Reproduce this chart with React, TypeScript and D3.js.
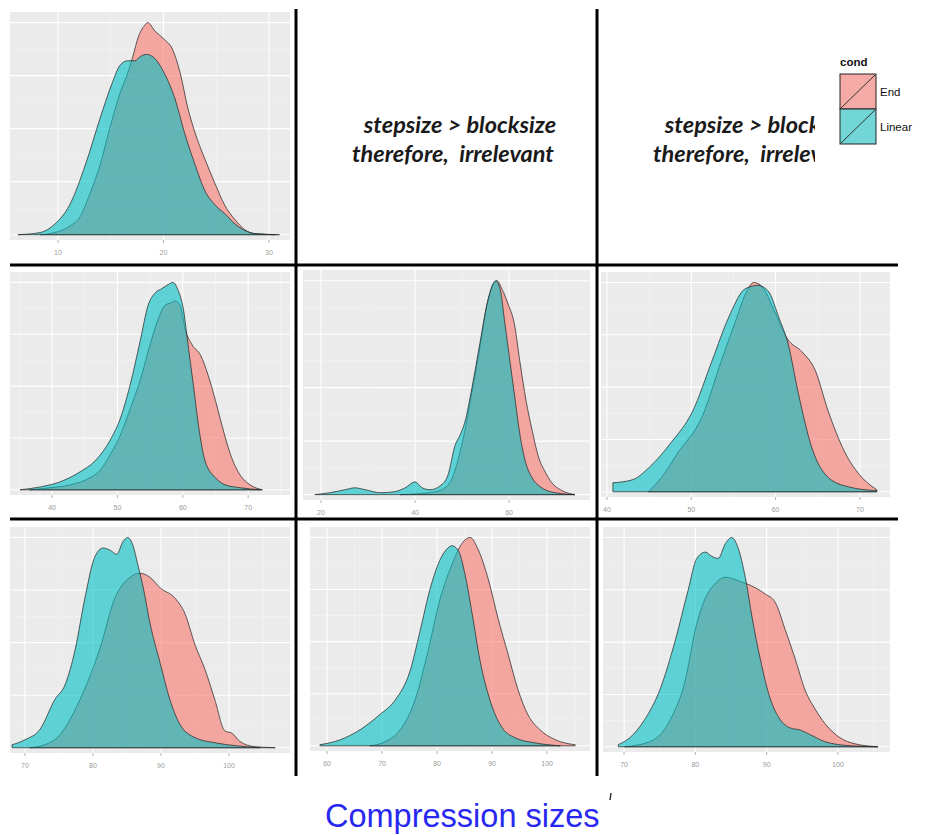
import React from "react";
import * as d3 from "d3";

type Pt = [number, number];

// Kernel density estimates (x = compression size, y = density as % of panel peak)
const p1End: Pt[] = [[8.3,0],[9.7,1],[11.1,4],[12.1,8.5],[13.0,19],[14.0,33],[14.9,50],[15.9,67],[16.6,76],[17.1,84],[17.6,93],[18.2,98.6],[18.5,100],[19.2,96],[20.1,92],[20.8,88],[21.6,76],[22.3,60],[23.0,48],[23.9,36],[24.9,24],[25.8,14],[26.8,7],[27.7,2.4],[28.7,0.5],[30.6,0]];
const p1Linear: Pt[] = [[6.2,0],[8.3,1],[9.7,5],[11.1,14],[12.6,33],[14.0,55],[15.1,71],[15.9,80],[16.6,82],[17.3,82],[17.8,84],[18.4,85],[19.2,83],[20.1,76],[21.1,64],[22.0,48],[23.0,33],[23.9,21],[24.9,14],[25.8,10],[26.8,5],[27.7,2],[28.7,0.5],[31.0,0]];

const p2End: Pt[] = [[36.6,0],[39.7,1],[42.8,2.4],[45.8,5.8],[47.4,9.6],[48.9,17],[50.4,26],[51.9,38.5],[53.5,53],[55.0,70],[56.2,82],[57.3,89],[58.1,90],[58.8,91],[59.6,89],[60.4,77],[61.4,70],[62.7,65],[63.9,55],[65.0,43],[66.0,31],[67.3,17],[68.8,7],[70.3,2.4],[72.2,0]];
const p2Linear: Pt[] = [[35.1,0],[38.2,1.4],[41.2,3.8],[44.3,8.7],[46.6,14],[48.9,24],[50.4,34],[51.9,50],[53.5,72],[54.7,89],[55.8,95],[56.8,97],[57.8,99],[58.5,100],[59.3,96],[60.1,87],[60.8,70],[61.6,51],[62.4,31],[63.4,14],[65.0,5.8],[66.5,2.4],[68.8,1],[71.9,0]];

const p3End: Pt[] = [[36.8,0],[41.1,0.5],[44.3,1.4],[46.4,3.2],[47.9,7.8],[49.1,16],[50.6,30],[52.1,48],[53.8,69],[55.3,89],[56.4,97],[57.4,100],[58.5,96],[59.8,89],[61.1,80],[62.3,62],[63.6,44],[64.9,30],[66.2,18],[67.7,10.5],[69.1,5.5],[70.9,2.3],[74.0,0]];
const p3Linear: Pt[] = [[18.7,0],[21.9,0.9],[25.1,2.3],[27.2,3.2],[29.4,2.3],[32.6,0.9],[35.7,1.4],[37.9,3.2],[40.0,6],[41.5,3.2],[43.2,2.3],[45.3,4.1],[47.0,9.2],[48.5,23],[49.6,28],[50.6,34],[52.1,50],[53.8,71],[55.3,89],[56.4,97.7],[57.2,100],[58.1,96],[59.1,80],[60.2,62],[61.3,44],[62.3,28],[63.4,16],[64.9,7.8],[66.6,3.7],[69.8,0.9],[74.0,0]];

const p4End: Pt[] = [[44.9,0],[46.5,7],[48.4,18.6],[51.3,36],[53.6,63],[55.2,81],[56.6,96],[57.4,100],[58.4,98],[59.9,86],[61.4,73],[63.1,67],[64.7,58],[66.2,39],[68.2,19],[70.2,7],[72.0,1]];
const p4Linear: Pt[] = [[40.7,4.3],[43.0,5.7],[45.1,12],[47.7,24],[50.1,38],[52.5,63],[54.4,83],[56.4,97],[57.9,98.6],[59.1,96],[60.5,82],[61.4,72],[62.7,47],[64.3,21],[66.2,7],[68.6,2.4],[72.0,0.5]];

const p5End: Pt[] = [[70.7,0],[72.9,1.4],[75.1,6],[78.1,23],[81.0,47],[83.2,71],[85.4,81],[86.9,83],[88.4,81],[89.9,76],[92.1,71],[93.5,64],[95.0,49],[96.5,37],[97.9,23],[99.4,8],[100.4,7],[101.6,3],[103.8,0.5],[106.8,0]];
const p5Linear: Pt[] = [[68.1,1.4],[70.0,3.8],[72.2,8.7],[74.4,23],[75.9,30],[77.4,47],[78.8,71],[80.3,91],[81.5,95],[82.5,94],[83.5,92],[84.4,98],[85.1,100],[85.9,96],[86.6,87],[87.4,76],[88.4,59],[89.9,40],[91.3,23],[92.8,11],[95.0,4.8],[97.9,2.4],[100.9,1],[104.6,0]];

const p6End: Pt[] = [[67.8,0],[70.5,1.9],[73.3,7.7],[76.0,22],[78.4,46],[80.5,70],[82.7,87],[84.5,97],[86.0,100],[87.5,94],[89.3,80],[91.1,61],[92.9,44],[94.7,27],[96.5,15],[98.7,7.7],[101.5,2.9],[105.1,0.5]];
const p6Linear: Pt[] = [[58.7,0.5],[62.4,2.9],[66.0,7.7],[69.6,15],[72.4,22],[75.1,36],[76.9,55],[78.7,75],[80.5,89],[82.0,95],[82.7,96],[83.8,94],[85.1,82],[86.4,63],[87.8,41],[89.6,22],[91.5,10],[94.2,3.8],[97.8,1.4],[102.4,0]];

const p7End: Pt[] = [[70.1,0],[73.6,2.4],[76.5,13],[78.6,32],[80.0,56],[81.4,71],[82.8,78],[84.2,81],[86.3,79],[88.4,76],[89.8,73],[91.2,69],[92.6,56],[94.0,42],[95.4,27],[96.8,18],[98.2,11],[100.3,4.3],[102.4,1.4],[105.6,0]];
const p7Linear: Pt[] = [[69.2,1],[70.8,4.3],[72.9,13],[75.0,27],[77.2,51],[79.0,75],[80.2,90],[81.4,93],[82.3,91],[83.2,90],[84.2,97],[85.1,100],[86.0,95],[87.0,81],[88.0,61],[89.1,42],[90.5,23],[91.9,13],[93.3,9],[94.7,8],[96.1,5.8],[98.2,2.4],[101.7,0.5],[105.6,0]];

// Axis ticks and domains for each panel
const p1Ticks = [10, 20, 30];
const p2Ticks = [40, 50, 60, 70];
const p3Ticks = [20, 40, 60];
const p4Ticks = [40, 50, 60, 70];
const p5Ticks = [70, 80, 90, 100];
const p6Ticks = [60, 70, 80, 90, 100];
const p7Ticks = [70, 80, 90, 100];

const p1Domain: Pt = [5.45, 32.0];
const p2Domain: Pt = [33.57, 76.4];
const p3Domain: Pt = [16.17, 77.2];
const p4Domain: Pt = [39.29, 73.57];
const p5Domain: Pt = [67.8, 108.97];
const p6Domain: Pt = [56.9, 107.8];
const p7Domain: Pt = [67.05, 107.3];

const condNames = ["End", "Linear"];
const noteLines = ["stepsize > blocksize", "therefore,  irrelevant"];
const titleText = "Compression sizes";

const densityDomain: Pt = [-2.5, 105];
const densityGrid = [0, 25, 50, 75, 100];

const fillColors = ["#F8766D", "#00BFC4"];
const keyColors = ["#F4ABA6", "#72D6D7"];

type Panel = {
  box: [number, number, number, number];
  domain: Pt;
  ticks: number[];
  series: Pt[][];
};

const panels: Panel[] = [
  { box: [10, 12, 290, 240], domain: p1Domain, ticks: p1Ticks, series: [p1End, p1Linear] },
  { box: [10, 272, 290, 495], domain: p2Domain, ticks: p2Ticks, series: [p2End, p2Linear] },
  { box: [303, 270, 590, 500], domain: p3Domain, ticks: p3Ticks, series: [p3End, p3Linear] },
  { box: [601, 272, 890, 497], domain: p4Domain, ticks: p4Ticks, series: [p4End, p4Linear] },
  { box: [10, 527, 290, 753], domain: p5Domain, ticks: p5Ticks, series: [p5End, p5Linear] },
  { box: [310, 527, 590, 751], domain: p6Domain, ticks: p6Ticks, series: [p6End, p6Linear] },
  { box: [603, 527, 890, 752], domain: p7Domain, ticks: p7Ticks, series: [p7End, p7Linear] },
];

function DensityPanel({ p, idx }: { p: Panel; idx: number }) {
  const [x0, y0, x1, y1] = p.box;
  const x = d3.scaleLinear().domain(p.domain).range([x0, x1]);
  const y = d3.scaleLinear().domain(densityDomain).range([y1, y0]);
  const area = d3
    .area<Pt>()
    .x((d) => x(d[0]))
    .y0(y(0))
    .y1((d) => y(d[1]))
    .curve(d3.curveMonotoneX);
  const step = p.ticks[1] - p.ticks[0];
  const minorX: number[] = [];
  for (let v = p.ticks[0] - step / 2; v <= p.domain[1]; v += step) {
    if (v >= p.domain[0]) minorX.push(v);
  }
  const minorY = densityGrid.slice(0, -1).map((v, i) => (v + densityGrid[i + 1]) / 2);
  const clipId = `panel-clip-${idx}`;
  return (
    <g>
      <defs>
        <clipPath id={clipId}>
          <rect x={x0} y={y0} width={x1 - x0} height={y1 - y0} />
        </clipPath>
      </defs>
      <rect x={x0} y={y0} width={x1 - x0} height={y1 - y0} fill="#EBEBEB" />
      <g clipPath={`url(#${clipId})`}>
        {minorX.map((v) => (
          <line key={`mx${v}`} x1={x(v)} x2={x(v)} y1={y0} y2={y1} stroke="#F5F5F5" strokeWidth={0.6} />
        ))}
        {minorY.map((v) => (
          <line key={`my${v}`} x1={x0} x2={x1} y1={y(v)} y2={y(v)} stroke="#F5F5F5" strokeWidth={0.6} />
        ))}
        {p.ticks.map((v) => (
          <line key={`gx${v}`} x1={x(v)} x2={x(v)} y1={y0} y2={y1} stroke="#FFFFFF" strokeWidth={1.1} />
        ))}
        {densityGrid.map((v) => (
          <line key={`gy${v}`} x1={x0} x2={x1} y1={y(v)} y2={y(v)} stroke="#FFFFFF" strokeWidth={1.1} />
        ))}
        {p.series.map((s, i) => (
          <path
            key={i}
            d={area(s) || ""}
            fill={fillColors[i]}
            fillOpacity={0.6}
            stroke="#2b2b2b"
            strokeOpacity={0.75}
            strokeWidth={1}
            strokeLinejoin="round"
          />
        ))}
      </g>
      {p.ticks.map((v) => (
        <g key={`t${v}`}>
          <line x1={x(v)} x2={x(v)} y1={y1} y2={y1 + 3} stroke="#9a9a9a" strokeWidth={0.8} />
          <text
            x={x(v)}
            y={y1 + 15}
            textAnchor="middle"
            fontSize={7}
            fontFamily="Liberation Sans, Arial, sans-serif"
            fill="#9a9a9a"
          >
            {v}
          </text>
        </g>
      ))}
    </g>
  );
}

function Note({ cx, clip }: { cx: number; clip?: string }) {
  return (
    <g clipPath={clip}>
      {noteLines.map((t, i) => (
        <text
          key={i}
          x={cx + (i === 0 ? 3 : -4)}
          y={133 + i * 29}
          textAnchor="middle"
          fontSize={23.5}
          fontFamily="Lato, 'Open Sans', sans-serif"
          fontWeight="bold"
          fontStyle="italic"
          fill="#1a1a1a"
          style={{ whiteSpace: "pre" }}
        >
          {t}
        </text>
      ))}
    </g>
  );
}

export default function App() {
  const W = 929;
  const H = 835;
  return (
    <svg
      width={W}
      height={H}
      viewBox={`0 0 ${W} ${H}`}
      style={{ position: "absolute", left: 0, top: 0, background: "#fff" }}
    >
      <defs>
        <clipPath id="note-right-clip">
          <rect x={600} y={0} width={215} height={260} />
        </clipPath>
      </defs>
      <rect x={0} y={0} width={W} height={H} fill="#fff" />
      {panels.map((p, i) => (
        <DensityPanel key={i} p={p} idx={i} />
      ))}

      <Note cx={457} />
      <Note cx={758} clip="url(#note-right-clip)" />

      {/* facet dividers */}
      <line x1={296} x2={296} y1={9} y2={776} stroke="#000" strokeWidth={3} />
      <line x1={597} x2={597} y1={9} y2={776} stroke="#000" strokeWidth={3} />
      <line x1={10} x2={898} y1={265} y2={265} stroke="#000" strokeWidth={3} />
      <line x1={10} x2={898} y1={519} y2={519} stroke="#000" strokeWidth={3} />

      {/* legend */}
      <g fontFamily="Liberation Sans, Arial, sans-serif">
        <text x={840} y={66} fontSize={11.5} fontWeight="bold" fill="#111">
          cond
        </text>
        {condNames.map((n, i) => {
          const ky = 74 + i * 35;
          return (
            <g key={n}>
              <rect x={840} y={ky} width={36} height={35} fill={keyColors[i]} stroke="#222" strokeWidth={1} />
              <line x1={841} y1={ky + 34} x2={875} y2={ky + 1} stroke="#333" strokeWidth={1} />
              <text x={880} y={ky + 22} fontSize={11.5} fill="#111">
                {n}
              </text>
            </g>
          );
        })}
      </g>

      {/* x axis title */}
      <text
        x={325}
        y={827}
        fontSize={32.5}
        fontFamily="Liberation Sans, Arial, sans-serif"
        fill="#2828f0"
      >
        {titleText}
      </text>
      <line x1={611} x2={610} y1={793} y2={800} stroke="#333" strokeWidth={1.5} />
    </svg>
  );
}
